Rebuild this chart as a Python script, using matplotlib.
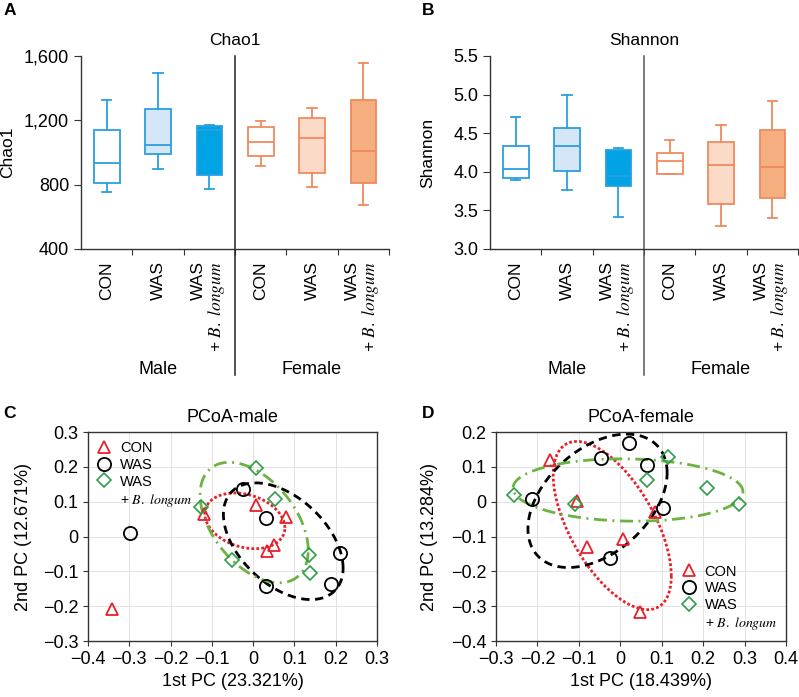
"""
Alpha diversity box plots (Chao1, Shannon) and PCoA scatter plots by sex
"""

import matplotlib
matplotlib.use("Agg")
import matplotlib.pyplot as plt
import numpy as np
from matplotlib import ticker
from matplotlib.lines import Line2D

plt.rcParams["font.family"] = ["Liberation Sans", "DejaVu Sans"]
plt.rcParams["mathtext.fontset"] = "stix"
plt.rcParams["axes.unicode_minus"] = True

# ---- box plot data: male CON, WAS, WAS+B, female CON, WAS, WAS+B ----
group_labels = ["CON", "WAS", "WAS\n+ $\\mathit{B.\\ longum}$",
                "CON", "WAS", "WAS\n+ $\\mathit{B.\\ longum}$"]
sex_labels = ["Male", "Female"]

chao_whislo = [753, 900, 770, 917, 784, 676]
chao_q1 = [813, 992, 861, 977, 875, 811]
chao_med = [933, 1048, 1140, 1066, 1087, 1012]
chao_q3 = [1141, 1270, 1165, 1158, 1212, 1326]
chao_whishi = [1326, 1496, 1173, 1195, 1278, 1554]

shan_whislo = [3.89, 3.77, 3.41, 3.965, 3.30, 3.40]
shan_q1 = [3.92, 4.01, 3.82, 3.965, 3.58, 3.66]
shan_med = [4.04, 4.34, 3.94, 4.14, 4.09, 4.06]
shan_q3 = [4.34, 4.57, 4.28, 4.24, 4.39, 4.54]
shan_whishi = [4.71, 4.99, 4.31, 4.41, 4.60, 4.92]

# ---- PCoA male ----
con_m_x = [-0.120, 0.007, 0.080, 0.033, 0.051, -0.342]
con_m_y = [0.064, 0.090, 0.056, -0.043, -0.023, -0.207]
was_m_x = [-0.298, -0.024, 0.031, 0.031, 0.210, 0.189]
was_m_y = [0.011, 0.135, 0.053, -0.142, -0.048, -0.137]
wasb_m_x = [0.006, 0.054, -0.127, -0.052, 0.135, 0.138]
wasb_m_y = [0.198, 0.109, 0.085, -0.068, -0.053, -0.106]
# ellipses (CON, WAS, WAS+B): centre, spread, correlation
ell_m_cx = [-0.020, 0.073, 0.0025]
ell_m_cy = [0.045, -0.0135, 0.040]
ell_m_sx = [0.097, 0.145, 0.131]
ell_m_sy = [0.080, 0.1675, 0.173]
ell_m_rho = [-0.25, -0.46, -0.46]

# ---- PCoA female ----
con_f_x = [-0.170, -0.104, -0.080, 0.006, 0.084, 0.048]
con_f_y = [0.119, 0.001, -0.130, -0.107, -0.031, -0.316]
was_f_x = [-0.212, -0.047, 0.022, 0.064, 0.104, -0.026]
was_f_y = [0.009, 0.125, 0.168, 0.104, -0.019, -0.161]
wasb_f_x = [-0.257, -0.109, 0.064, 0.116, 0.208, 0.286]
wasb_f_y = [0.020, -0.006, 0.062, 0.127, 0.039, -0.007]
ell_f_cx = [-0.0195, -0.055, 0.0185]
ell_f_cy = [-0.0685, 0.0025, 0.0335]
ell_f_sx = [0.1425, 0.168, 0.2775]
ell_f_sy = [0.2415, 0.1915, 0.0895]
ell_f_rho = [-0.60, 0.42, -0.06]

BLUE = "#2a9fe0"
ORANGE = "#f08a5d"
box_edges = [BLUE, BLUE, BLUE, ORANGE, ORANGE, ORANGE]
box_fills = ["white", "#d5e6f6", "#00a3e3", "white", "#fbdac8", "#f4ae80"]

RED = "#e8202a"
GREEN_M = "#2e9e48"
GREEN_L = "#6cb33f"


def comma_fmt(v, pos=None):
    return f"{int(v):,}"


def pc_fmt(v, pos=None):
    if abs(v) < 1e-9:
        return "0"
    return f"{v:.1f}".replace("-", "\u2212")


def draw_box_panel(ax, whislo, q1, med, q3, whishi, title, ylabel, ylim, yticks, fmt, divider_color):
    stats = []
    for i in range(len(med)):
        stats.append(dict(med=med[i], q1=q1[i], q3=q3[i],
                          whislo=whislo[i], whishi=whishi[i], label=""))
    bp = ax.bxp(stats, positions=range(len(stats)), widths=0.5, capwidths=0.18,
                patch_artist=True, showfliers=False, manage_ticks=False)
    for i, box in enumerate(bp["boxes"]):
        box.set_facecolor(box_fills[i])
        box.set_edgecolor(box_edges[i])
        box.set_linewidth(1.3)
        for art in (bp["whiskers"][2 * i], bp["whiskers"][2 * i + 1],
                    bp["caps"][2 * i], bp["caps"][2 * i + 1], bp["medians"][i]):
            art.set_color(box_edges[i])
            art.set_linewidth(1.3)

    ax.set_xlim(-0.5, 5.5)
    ax.set_ylim(*ylim)
    ax.set_yticks(yticks)
    ax.yaxis.set_major_formatter(ticker.FuncFormatter(fmt))
    ax.spines["top"].set_visible(False)
    ax.spines["right"].set_visible(False)
    for s in ("left", "bottom"):
        ax.spines[s].set_color("#333333")
        ax.spines[s].set_linewidth(1.0)

    ax.set_xticks([0.5, 1.5, 2.5, 3.5, 4.5, 5.5])
    ax.set_xticklabels([])
    ax.set_xticks(range(6), minor=True)
    ax.set_xticklabels(group_labels, minor=True, rotation=90, fontsize=12.5)
    for lbl in ax.get_xticklabels(minor=True):
        lbl.set_multialignment("right")
        lbl.set_linespacing(1.0)
    ax.tick_params(axis="x", which="major", direction="out", length=4.5, color="#333333")
    ax.tick_params(axis="x", which="minor", length=0, pad=9)
    ax.tick_params(axis="y", direction="out", length=5, labelsize=13, color="#333333")

    ax.plot([2.5, 2.5], [-0.655, 1.0], transform=ax.get_xaxis_transform(),
            color=divider_color, lw=1.1, clip_on=False)
    ax.text(1, -0.627, sex_labels[0], transform=ax.get_xaxis_transform(),
            ha="center", va="center", fontsize=13)
    ax.text(4, -0.627, sex_labels[1], transform=ax.get_xaxis_transform(),
            ha="center", va="center", fontsize=13)

    ax.set_title(title, fontsize=12.5, pad=8)
    ax.set_ylabel(ylabel, fontsize=12.5)


def ellipse_xy(cx, cy, sx, sy, rho):
    t = np.linspace(0, 2 * np.pi, 200)
    x = cx + sx * np.cos(t)
    y = cy + sy * (rho * np.cos(t) + np.sqrt(1 - rho ** 2) * np.sin(t))
    return x, y


def draw_pcoa_panel(ax, pts, ell, title, xlabel, ylabel, xlim, ylim, legend_loc, legend_anchor):
    (cx_, cy_), (wx, wy), (bx, by) = pts
    ecx, ecy, esx, esy, erho = ell
    styles = [
        dict(color=RED, ls=(0, (1, 0.8)), lw=2.0),
        dict(color="black", ls=(0, (3, 2)), lw=2.0),
        dict(color=GREEN_L, ls=(0, (4.7, 2, 0.7, 2)), lw=2.0),
    ]
    for i in range(3):
        ex, ey = ellipse_xy(ecx[i], ecy[i], esx[i], esy[i], erho[i])
        ax.plot(ex, ey, zorder=2, **styles[i])

    ax.plot(cx_, cy_, ls="", marker="^", ms=9, mfc="none", mec=RED, mew=1.3, zorder=3)
    ax.plot(wx, wy, ls="", marker="o", ms=9.5, mfc="none", mec="black", mew=1.3, zorder=3)
    ax.plot(bx, by, ls="", marker="D", ms=7, mfc="none", mec=GREEN_M, mew=1.2, zorder=3)

    ax.set_xlim(*xlim)
    ax.set_ylim(*ylim)
    ax.set_xticks(np.round(np.arange(xlim[0], xlim[1] + 1e-9, 0.1), 2))
    ax.set_yticks(np.round(np.arange(ylim[0], ylim[1] + 1e-9, 0.1), 2))
    ax.xaxis.set_major_formatter(ticker.FuncFormatter(pc_fmt))
    ax.yaxis.set_major_formatter(ticker.FuncFormatter(pc_fmt))
    ax.grid(True, color="#e3e3e3", lw=0.7)
    ax.set_axisbelow(True)
    for s in ax.spines.values():
        s.set_color("#333333")
        s.set_linewidth(1.0)
    ax.tick_params(direction="out", length=3.5, labelsize=13, color="#333333")

    handles = [
        Line2D([], [], ls="", marker="^", ms=9, mfc="none", mec=RED, mew=1.3),
        Line2D([], [], ls="", marker="o", ms=9.5, mfc="none", mec="black", mew=1.3),
        Line2D([], [], ls="", marker="D", ms=7, mfc="none", mec=GREEN_M, mew=1.2),
        Line2D([], [], ls="", marker=""),
    ]
    labels = ["CON", "WAS", "WAS", "+ $\\mathit{B.\\ longum}$"]
    leg = ax.legend(handles, labels, loc=legend_loc, bbox_to_anchor=legend_anchor,
                    frameon=False, fontsize=10.5, labelspacing=0.2,
                    handlelength=1.0, handletextpad=0.6, borderaxespad=0.2)
    leg.get_texts()[3].set_fontsize(10)

    ax.set_title(title, fontsize=13, pad=7)
    ax.set_xlabel(xlabel, fontsize=13)
    ax.set_ylabel(ylabel, fontsize=13)


def main():
    fig = plt.figure(figsize=(7.99, 6.97), dpi=100)

    ax_a = fig.add_axes([0.1014, 0.6428, 0.3855, 0.2769])
    draw_box_panel(ax_a, chao_whislo, chao_q1, chao_med, chao_q3, chao_whishi,
                   "Chao1", "Chao1", (400, 1600), [400, 800, 1200, 1600], comma_fmt, "#222222")
    ax_a.yaxis.set_label_coords(-0.214, 0.5)

    ax_b = fig.add_axes([0.6133, 0.6428, 0.3855, 0.2769])
    draw_box_panel(ax_b, shan_whislo, shan_q1, shan_med, shan_q3, shan_whishi,
                   "Shannon", "Shannon", (3.0, 5.5), [3.0, 3.5, 4.0, 4.5, 5.0, 5.5],
                   lambda v, p: f"{v:.1f}", "#555555")
    ax_b.yaxis.set_label_coords(-0.179, 0.5)

    ax_c = fig.add_axes([0.1101, 0.0803, 0.3617, 0.2999])
    draw_pcoa_panel(ax_c,
                    [(con_m_x, con_m_y), (was_m_x, was_m_y), (wasb_m_x, wasb_m_y)],
                    (ell_m_cx, ell_m_cy, ell_m_sx, ell_m_sy, ell_m_rho),
                    "PCoA-male", "1st PC (23.321%)", "2nd PC (12.671%)",
                    (-0.4, 0.3), (-0.3, 0.3), "upper left", (0.0, 1.0))
    ax_c.yaxis.set_label_coords(-0.194, 0.5)

    ax_d = fig.add_axes([0.6208, 0.0803, 0.3630, 0.2999])
    draw_pcoa_panel(ax_d,
                    [(con_f_x, con_f_y), (was_f_x, was_f_y), (wasb_f_x, wasb_f_y)],
                    (ell_f_cx, ell_f_cy, ell_f_sx, ell_f_sy, ell_f_rho),
                    "PCoA-female", "1st PC (18.439%)", "2nd PC (13.284%)",
                    (-0.3, 0.4), (-0.4, 0.2), "lower right", (1.0, 0.0))
    ax_d.yaxis.set_label_coords(-0.2, 0.5)

    for lbl, x, y in [("A", 0.004, 0.996), ("B", 0.528, 0.996),
                      ("C", 0.004, 0.4175), ("D", 0.528, 0.4175)]:
        fig.text(x, y, lbl, fontsize=12.5, fontweight="bold", ha="left", va="top")

    fig.savefig("out.png", dpi=100)
    plt.close(fig)


if __name__ == "__main__":
    main()
